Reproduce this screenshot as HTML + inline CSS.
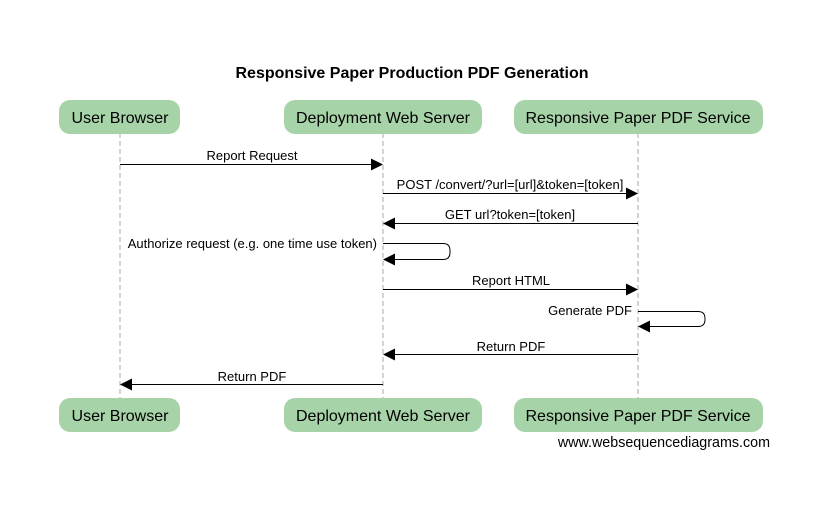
<!DOCTYPE html>
<html><head><meta charset="utf-8"><style>
html,body{margin:0;padding:0;background:#fff;width:826px;height:526px;overflow:hidden}
text{font-family:"Liberation Sans",Arial,sans-serif;fill:#000}
</style></head><body>
<svg width="826" height="526" viewBox="0 0 826 526" xmlns="http://www.w3.org/2000/svg">
<defs><marker id="a" markerWidth="12" markerHeight="12" refX="11" refY="6" orient="auto" markerUnits="userSpaceOnUse"><path d="M0,0 L12,6 L0,12 z" fill="#000"/></marker></defs>
<text x="412" y="78" font-size="16" font-weight="bold" text-anchor="middle" textLength="353" lengthAdjust="spacingAndGlyphs">Responsive Paper Production PDF Generation</text>
<g stroke="#aaa" stroke-dasharray="5,3" stroke-width="1">
<line x1="120" y1="133" x2="120" y2="398"/>
<line x1="383" y1="133" x2="383" y2="398"/>
<line x1="638" y1="133" x2="638" y2="398"/>
</g>
<g fill="#a7d3a9">
<rect x="59" y="100" width="121" height="34" rx="11"/>
<rect x="284" y="100" width="198" height="34" rx="11"/>
<rect x="514" y="100" width="249" height="34" rx="11"/>
<rect x="59" y="398" width="121" height="34" rx="11"/>
<rect x="284" y="398" width="198" height="34" rx="11"/>
<rect x="514" y="398" width="249" height="34" rx="11"/>
</g>
<g font-size="16" text-anchor="middle">
<text x="120" y="123">User Browser</text>
<text x="383" y="123">Deployment Web Server</text>
<text x="638" y="123">Responsive Paper PDF Service</text>
<text x="120" y="421">User Browser</text>
<text x="383" y="421">Deployment Web Server</text>
<text x="638" y="421">Responsive Paper PDF Service</text>
</g>
<g stroke="#000" stroke-width="1" fill="none" marker-end="url(#a)">
<line x1="120" y1="164.5" x2="382" y2="164.5"/>
<line x1="383" y1="193.5" x2="637" y2="193.5"/>
<line x1="638" y1="223.5" x2="384" y2="223.5"/>
<path d="M383,243.5 H443 Q450,243.5 450,250.5 V252.5 Q450,259.5 443,259.5 H384"/>
<line x1="383" y1="289.5" x2="637" y2="289.5"/>
<path d="M638,311.5 H698 Q705,311.5 705,318.5 V319.5 Q705,326.5 698,326.5 H639"/>
<line x1="638" y1="354.5" x2="384" y2="354.5"/>
<line x1="383" y1="384.5" x2="121" y2="384.5"/>
</g>
<g font-size="13" text-anchor="middle">
<text x="252" y="160">Report Request</text>
<text x="510" y="189">POST /convert/?url=[url]&amp;token=[token]</text>
<text x="510" y="219">GET url?token=[token]</text>
<text x="377" y="248" text-anchor="end">Authorize request (e.g. one time use token)</text>
<text x="511" y="285">Report HTML</text>
<text x="632" y="315" text-anchor="end">Generate PDF</text>
<text x="511" y="351">Return PDF</text>
<text x="252" y="381">Return PDF</text>
</g>
<text x="770" y="447" font-size="14.3" text-anchor="end">www.websequencediagrams.com</text>
</svg>
</body></html>
